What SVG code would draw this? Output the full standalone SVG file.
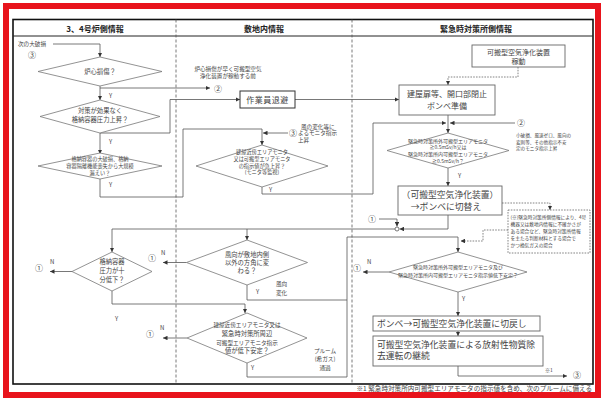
<svg xmlns="http://www.w3.org/2000/svg" width="601" height="398" viewBox="0 0 601 398">
<defs>
<marker id="ah" viewBox="0 0 6 6" refX="6" refY="3" markerWidth="4.5" markerHeight="4.5" markerUnits="userSpaceOnUse" orient="auto"><path d="M0,0 L6,3 L0,6 z" fill="#333"/></marker>
</defs>
<style>
text{font-family:"Noto Sans CJK JP","Noto Sans",sans-serif;fill:#444}
.hd{font-size:8px;font-weight:bold;fill:#222;text-anchor:middle}
.c{text-anchor:middle}
.ln{fill:none;stroke:#555;stroke-width:0.8}
.ar{marker-end:url(#ah)}
.dt{stroke-dasharray:1.6,1.2;stroke:#666}
.dia{fill:#fff;stroke:#777;stroke-width:0.8}
.box{fill:#fff;stroke:#666;stroke-width:0.9}
.cn{font-size:8px;text-anchor:middle}
.yn{font-size:6px}
.t5{font-size:5px}
.t52{font-size:5.2px}
.t55{font-size:5.6px}
.t6{font-size:6.3px}
.t7{font-size:7px}
.t8{font-size:8px}
.t9{font-size:8.8px}
</style>
<rect x="0" y="0" width="601" height="398" fill="#fff"/>
<rect x="6" y="6" width="592" height="389" fill="none" stroke="#e8141c" stroke-width="6"/>
<rect x="13" y="19.5" width="580" height="364.5" fill="none" stroke="#111" stroke-width="1.6"/>
<line x1="13" y1="36" x2="593" y2="36" stroke="#222" stroke-width="1"/>
<line x1="176" y1="19.5" x2="176" y2="384" stroke="#555" stroke-width="0.8" stroke-dasharray="3,2"/>
<line x1="352" y1="19.5" x2="352" y2="384" stroke="#555" stroke-width="0.8" stroke-dasharray="3,2"/>
<text class="hd" x="95" y="32">3、4号炉側情報</text>
<text class="hd" x="264" y="32">敷地内情報</text>
<text class="hd" x="476" y="32">緊急時対策所側情報</text>

<g id="connectors">
<path class="ln ar" d="M53,44 H100 V57"/>
<path class="ln ar" d="M100,86 V100"/>
<path class="ln ar" d="M100,88 H210"/>
<path class="ln ar" d="M100,133 V154"/>
<path class="ln ar" d="M100,133 H170 V99.5 H240"/>
<path class="ln ar" d="M295,99.5 H399"/>
<path class="ln ar dt" d="M518,67 V77 H448 V85"/>
<path class="ln ar" d="M448,115 V133"/>
<path class="ln ar" d="M515,123 H450"/>
<path class="ln ar" d="M262,187 V194 H373 V123 H446"/>
<path class="ln ar" d="M100,179 V197 H183 V129 H262 V145"/>
<path class="ln ar" d="M288,133 H263"/>
<path class="ln ar" d="M448,168 V186"/>
<path class="ln ar" d="M448,215 V229 H399.5"/>
<path class="ln ar" d="M379,219 H397 V226.5"/>
<circle cx="397" cy="229" r="2" fill="#fff" stroke="#555" stroke-width="0.8"/>
<path class="ln ar" d="M395,229 H112 V252"/>
<path class="ln ar" d="M247,229 V240"/>
<path class="ln ar dt" d="M502,203 H550 V210"/>
<path class="ln ar dt" d="M508,230 H483 V241 H460.5"/>
<path class="ln ar" d="M186.5,262.5 H163"/>
<path class="ln" d="M247,285 V300 H347"/>
<path class="ln ar" d="M72,271.5 H50"/>
<path class="ln ar" d="M112,291 V304 H245 V313"/>
<path class="ln ar" d="M187,338 H163"/>
<path class="ln ar" d="M247,363 V377 H347 V237 H458 V252"/>
<path class="ln ar" d="M389,272 H363"/>
<path class="ln ar" d="M458,292 V316"/>
<path class="ln ar" d="M458,331 V336"/>
<path class="ln ar" d="M458,366 V376 H567"/>
<g id="connector-labels">
<text class="t55" x="18" y="46">次の大破損</text>
<text class="cn" x="32" y="58">③</text>
<text class="yn" x="109" y="98">Y</text>
<text class="yn" x="109" y="144">Y</text>
<text class="yn" x="109" y="187">Y</text>
<text class="t55 c" x="228" y="71">炉心損傷が早く可搬型空気</text>
<text class="t55 c" x="228" y="78">浄化装置が稼動する前</text>
<text class="cn" x="218" y="92">②</text>
<text class="cn" x="293" y="136">③</text>
<text class="t55" x="301" y="128.5">風の変化等に</text>
<text class="t55" x="298" y="135">よるモニタ指示</text>
<text class="t55" x="298" y="141.5">上昇</text>
<text class="yn" x="269" y="192">Y</text>
<text class="cn" x="521" y="126">②</text>
<text style="font-size:4.6px" x="516" y="137">小破損、風速ゼロ、風向の</text>
<text style="font-size:4.6px" x="516" y="143.5">変則等、その他指示不安</text>
<text style="font-size:4.6px" x="516" y="150">定のモニタ指示上昇</text>
<text class="yn" x="458" y="178">Y</text>
<text class="cn" x="372" y="222">①</text>
<text class="cn" x="152" y="261">①</text>
<text class="yn" x="161" y="255">N</text>
<text class="yn" x="256" y="294">Y</text>
<text class="t55" x="276" y="286">風向</text>
<text class="t55" x="276" y="294.5">変化</text>
<text class="cn" x="39" y="271">①</text>
<text class="yn" x="50" y="264">N</text>
<text class="yn" x="115" y="321">Y</text>
<text class="cn" x="150" y="337">①</text>
<text class="yn" x="160" y="330">N</text>
<text class="yn" x="251" y="370">Y</text>
<text class="t55 c" x="325" y="353">プルーム</text>
<text class="t55 c" x="325" y="361">(希ガス)</text>
<text class="t55 c" x="325" y="369.5">通過</text>
<text class="cn" x="357" y="271">①</text>
<text class="yn" x="367" y="264">N</text>
<text class="yn" x="462" y="301">Y</text>
<text class="t5" x="545" y="372">※1</text>
<text class="cn" x="577" y="378">③</text>
</g>
</g>

<g id="d1-core-damage">
<polygon class="dia" points="100,57 162,71.5 100,86 38,71.5"/>
<text class="t6 c" x="100" y="74">炉心損傷？</text>
</g>
<g id="d2-cv-pressure">
<polygon class="dia" points="100,100 160,116.5 100,133 40,116.5"/>
<text class="t6 c" x="100" y="113">対策が効果なく</text>
<text class="t6 c" x="100" y="121.5">格納容器圧力上昇？</text>
</g>
<g id="d3-large-leak">
<polygon class="dia" points="100,153 162,166 100,179 38,166"/>
<text class="t52 c" x="100" y="161">格納容器の大破損、格納</text>
<text class="t52 c" x="100" y="167.8">容器隔離機能喪失から大規模</text>
<text class="t52 c" x="100" y="174.6">漏えい？</text>
</g>
<g id="b-evacuate">
<rect x="240" y="91" width="55" height="17" fill="#fff" stroke="#333" stroke-width="1"/>
<text class="t8 c" x="267.5" y="102.5" style="letter-spacing:0.5px">作業員退避</text>
</g>
<g id="d4-monitor-rise">
<polygon class="dia" points="262,145 328,166 262,187 196,166"/>
<text class="t52 c" x="262" y="154">建屋近傍エリアモニタ</text>
<text class="t52 c" x="262" y="160.8">又は可搬型エリアモニタ</text>
<text class="t52 c" x="262" y="167.6">の指示値が急上昇？</text>
<text class="t52 c" x="262" y="174.4">(モニタ等監視)</text>
</g>
<g id="b-purifier-start">
<rect class="box" x="472" y="45" width="93" height="22"/>
<text class="t7 c" x="518.5" y="54.5">可搬型空気浄化装置</text>
<text class="t7 c" x="518.5" y="64">稼動</text>
</g>
<g id="b-close-openings">
<rect class="box" x="399" y="85" width="96" height="30"/>
<text class="t8 c" x="447" y="97">建屋扉等、開口部閉止</text>
<text class="t8 c" x="447" y="109">ボンベ準備</text>
</g>
<g id="d5-efc-monitor">
<polygon class="dia" points="448,133 509,150.5 448,168 387,150.5"/>
<text class="t5 c" x="448" y="142.5">緊急時対策所外可搬型エリアモニタ</text>
<text class="t5 c" x="448" y="149.3">≧0.5mSv/h又は</text>
<text class="t5 c" x="448" y="156.1">緊急時対策所内可搬型エリアモニタ</text>
<text class="t5 c" x="448" y="162.9">≧0.5mSv/h？</text>
</g>
<g id="b-switch-cylinder">
<rect class="box" x="398" y="186" width="104" height="29"/>
<text class="t9 c" x="450" y="198">（可搬型空気浄化装置）</text>
<text class="t9 c" x="446" y="210">→ボンベに切替え</text>
</g>
<g id="n-note">
<rect x="508" y="210" width="82" height="43" fill="#fff" stroke="#666" stroke-width="0.8" stroke-dasharray="1.6,1.2"/>
<text style="font-size:4.7px" x="510.5" y="219">(※)緊急時対策所側情報により、4号</text>
<text style="font-size:4.7px" x="510.5" y="226">機器又は敷地内情報に不確かさが</text>
<text style="font-size:4.7px" x="510.5" y="233">ある場合など、緊急時対策所情報</text>
<text style="font-size:4.7px" x="510.5" y="240">を主たる判断材料とする場合で</text>
<text style="font-size:4.7px" x="510.5" y="247">かつ換気ガスの場合</text>
</g>
<g id="d6-wind">
<polygon class="dia" points="247,240 307.5,262.5 247,285 186.5,262.5"/>
<text class="t6 c" x="247" y="256.5">風向が敷地内側</text>
<text class="t6 c" x="247" y="264.5">以外の方角に変</text>
<text class="t6 c" x="247" y="272.5">わる？</text>
</g>
<g id="d7-cv-low">
<polygon class="dia" points="112,252 152,271.5 112,291 72,271.5"/>
<text class="t6 c" x="112" y="264">格納容器</text>
<text class="t6 c" x="112" y="273">圧力が十</text>
<text class="t6 c" x="112" y="282">分低下？</text>
</g>
<g id="d8-efc-low">
<polygon class="dia" points="458,252 527,272 458,292 389,272"/>
<text class="t5 c" x="458" y="269">緊急時対策所外可搬型エリアモニタ及び</text>
<text class="t5 c" x="458" y="277">緊急時対策所内可搬型エリアモニタ指示値低下安定？</text>
</g>
<g id="d9-stable">
<polygon class="dia" points="247,313 307,338 247,363 187,338"/>
<text class="t55 c" x="247" y="327">建屋近傍エリアモニタ又は</text>
<text class="t6 c" x="247" y="336">緊急時対策所周辺</text>
<text class="t55 c" x="247" y="344.5">可搬型エリアモニタ指示</text>
<text class="t6 c" x="247" y="353">値が低下安定？</text>
</g>
<g id="b-switch-back">
<rect class="box" x="373" y="316" width="167" height="15"/>
<text class="t9" x="377" y="327">ボンベ→可搬型空気浄化装置に切戻し</text>
</g>
<g id="b-continue">
<rect class="box" x="373" y="336" width="170" height="30"/>
<text class="t9" x="377" y="347.5">可搬型空気浄化装置による放射性物質除</text>
<text class="t9" x="377" y="359">去運転の継続</text>
</g>
<text x="592" y="391" style="font-size:6.6px;text-anchor:end">※1 緊急時対策所内可搬型エリアモニタの指示値を含め、次のプルームに備える</text>
</svg>
